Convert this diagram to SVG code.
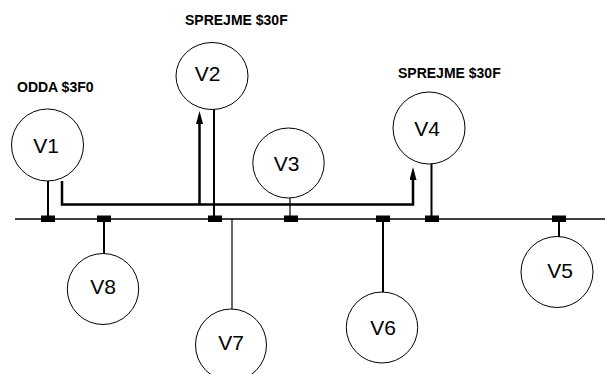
<svg xmlns="http://www.w3.org/2000/svg" width="605" height="374" viewBox="0 0 605 374">
<style>
.node ellipse{fill:#fff;stroke:#000;stroke-width:1}
.node text{font-family:"Liberation Sans",Arial,sans-serif;font-size:21px;text-anchor:middle;fill:#000}
.lbl{font-family:"Liberation Sans",Arial,sans-serif;font-size:14px;font-weight:bold;fill:#000}
.tap{stroke:#000;stroke-width:2;fill:none}
.thin{stroke:#000;stroke-width:1.2;fill:none}
.sig{stroke:#000;stroke-width:2.5;fill:none}
.sq{fill:#000}
</style>
<defs>
<marker id="arr" markerUnits="userSpaceOnUse" markerWidth="14" markerHeight="8" refX="1" refY="3.5" orient="auto">
<path d="M0,0 L13,3.5 L0,7 z" fill="#000"/>
</marker>
</defs>
<rect width="605" height="374" fill="#fff"/>
<g id="connectors">
<line x1="15" y1="219" x2="605" y2="219" stroke="#000" stroke-width="1.5"/>
<line class="tap" x1="48" y1="181" x2="48" y2="219"/>
<line class="tap" x1="214" y1="109" x2="214" y2="219"/>
<line class="thin" x1="290" y1="198" x2="290" y2="219"/>
<line class="tap" x1="431.5" y1="164" x2="431.5" y2="219"/>
<line class="tap" x1="559" y1="219" x2="559" y2="237"/>
<line class="tap" x1="383" y1="219" x2="383" y2="292"/>
<line class="thin" x1="232" y1="219" x2="232" y2="309"/>
<line class="tap" x1="104" y1="219" x2="104" y2="253.5"/>
<rect class="sq" x="41" y="215.5" width="14" height="6.5"/>
<rect class="sq" x="97" y="215.5" width="14" height="6.5"/>
<rect class="sq" x="208" y="215.5" width="14" height="6.5"/>
<rect class="sq" x="284" y="215.5" width="14" height="6.5"/>
<rect class="sq" x="376" y="215.5" width="14" height="6.5"/>
<rect class="sq" x="425" y="215.5" width="14" height="6.5"/>
<rect class="sq" x="552" y="215.5" width="14" height="6.5"/>
<path class="sig" d="M62,181 V204.5 H413 V179" marker-end="url(#arr)"/>
<path class="sig" d="M199.5,204.5 V123" marker-end="url(#arr)"/>
</g>
<g id="V1" class="node"><ellipse cx="47.5" cy="145" rx="36" ry="36"/><text x="46" y="153">V1</text></g>
<g id="V2" class="node"><ellipse cx="212" cy="76" rx="36" ry="33.5"/><text x="207.5" y="80.5">V2</text></g>
<g id="V3" class="node"><ellipse cx="288.5" cy="163" rx="35.7" ry="35"/><text x="286.5" y="170.5">V3</text></g>
<g id="V4" class="node"><ellipse cx="429" cy="128" rx="36" ry="36"/><text x="427" y="136">V4</text></g>
<g id="V5" class="node"><ellipse cx="557" cy="272" rx="36" ry="35.5"/><text x="560" y="277.5">V5</text></g>
<g id="V6" class="node"><ellipse cx="382" cy="327.5" rx="35.7" ry="35.5"/><text x="383" y="335">V6</text></g>
<g id="V7" class="node"><ellipse cx="231" cy="345" rx="35.5" ry="36"/><text x="231" y="350">V7</text></g>
<g id="V8" class="node"><ellipse cx="103" cy="289" rx="35.7" ry="35.5"/><text x="103" y="294">V8</text></g>
<text class="lbl" x="17" y="92">ODDA $3F0</text>
<text class="lbl" x="185" y="25">SPREJME $30F</text>
<text class="lbl" x="398" y="78">SPREJME $30F</text>
</svg>
